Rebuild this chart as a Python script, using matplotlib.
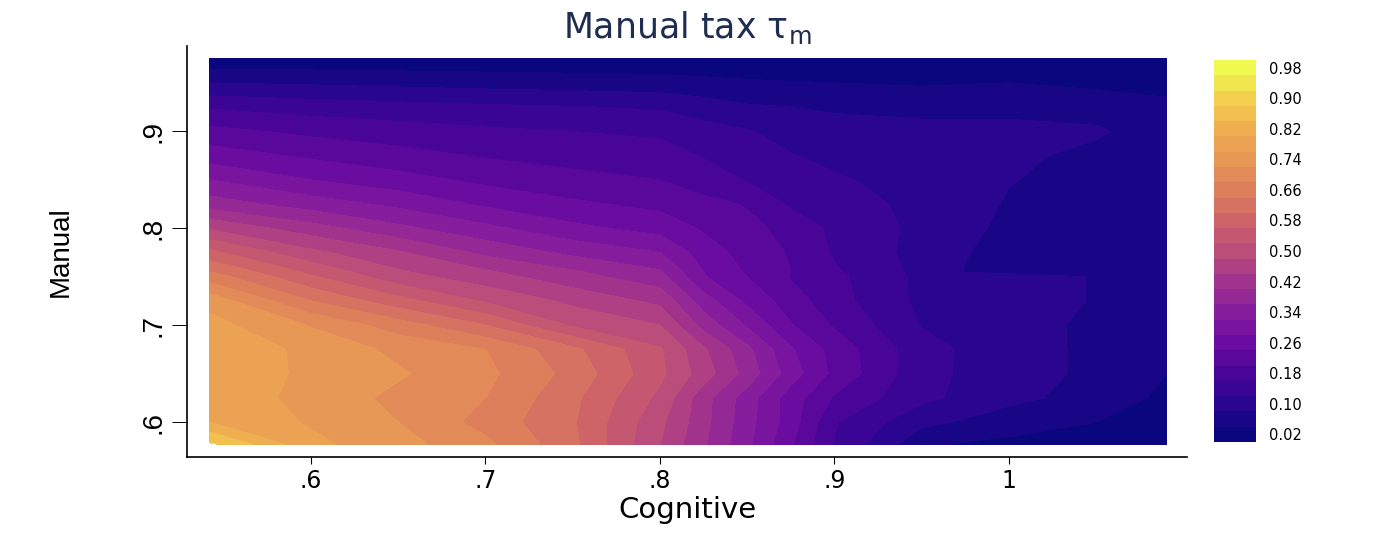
import matplotlib
matplotlib.use("Agg")
import matplotlib.pyplot as plt
from matplotlib.colors import LinearSegmentedColormap
import numpy as np

cognitive = [0.542, 0.60, 0.65, 0.70, 0.75, 0.80, 0.825, 0.85, 0.875, 0.90, 0.95, 0.975, 1.00, 1.05, 1.0905]
manual = [0.975, 0.95, 0.925, 0.90, 0.875, 0.85, 0.825, 0.80, 0.775, 0.755, 0.75, 0.725, 0.70, 0.675, 0.65, 0.625, 0.60, 0.577]

# one row per manual value
tax = [
    [.01, .01, .01, .01, .01, .01, .01, .01, .01, .01, .01, .01, .01, .01, .01],
    [.08, .074, .069, .064, .06, .056, .05, .045, .042, .04, .035, .038, .04, .03, .025],
    [.155, .142, .134, .127, .122, .115, .10, .085, .08, .075, .07, .07, .07, .065, .05],
    [.212, .19, .178, .167, .16, .152, .135, .123, .105, .094, .09, .09, .09, .085, .06],
    [.26, .233, .214, .196, .185, .177, .157, .14, .122, .108, .095, .093, .088, .07, .06],
    [.32, .28, .255, .23, .212, .2, .178, .157, .14, .126, .10, .095, .082, .066, .06],
    [.38, .34, .31, .273, .247, .229, .212, .197, .153, .136, .11, .098, .075, .065, .06],
    [.475, .417, .37, .33, .29, .265, .235, .21, .188, .15, .11, .09, .07, .065, .06],
    [.57, .49, .445, .39, .35, .32, .26, .225, .196, .155, .105, .082, .065, .065, .06],
    [.64, .55, .485, .445, .405, .365, .28, .235, .20, .165, .108, .078, .07, .068, .06],
    [.66, .565, .495, .457, .415, .375, .283, .24, .197, .17, .11, .097, .095, .078, .06],
    [.745, .64, .575, .515, .47, .43, .34, .27, .22, .175, .11, .10, .095, .078, .06],
    [.775, .717, .66, .60, .515, .48, .385, .315, .243, .195, .118, .10, .095, .072, .06],
    [.79, .75, .71, .68, .61, .525, .447, .37, .285, .225, .135, .115, .10, .07, .05],
    [.795, .75, .725, .69, .627, .53, .46, .385, .30, .23, .132, .115, .10, .07, .04],
    [.79, .745, .71, .68, .61, .51, .415, .34, .26, .195, .13, .11, .09, .065, .03],
    [.80, .755, .72, .665, .605, .49, .413, .335, .26, .163, .09, .075, .06, .04, .02],
    [.89, .77, .735, .69, .61, .48, .405, .33, .245, .158, .05, .035, .03, .025, .015],
]

x_ticks = [0.6, 0.7, 0.8, 0.9, 1.0]
x_labels = ['.6', '.7', '.8', '.9', '1']
y_ticks = [0.6, 0.7, 0.8, 0.9]
y_labels = ['.6', '.7', '.8', '.9']
bar_ticks = [0.02, 0.10, 0.18, 0.26, 0.34, 0.42, 0.50, 0.58, 0.66, 0.74, 0.82, 0.90, 0.98]
levels = np.linspace(0, 1, 26)

# palette as it looks in the colour bar of the picture
band_colors = ['#0a067d', '#2a0590', '#4a0598', '#6a0ca0', '#861d9c', '#a2338c', '#ba4c7a',
               '#ce6468', '#de7f5c', '#e79755', '#efad50', '#f4d04f', '#f0f950']
palette = LinearSegmentedColormap.from_list('bands', band_colors)(np.linspace(0, 1, 25))

W, H = 1375, 544
fig = plt.figure(figsize=(W / 100, H / 100), dpi=100)
ax = fig.add_axes([187 / W, 1 - 457 / H, 1000 / W, 411 / H])

cf = ax.contourf(cognitive, manual, tax, levels=levels, colors=palette)
ax.set_xlim(0.529, 1.102)
ax.set_ylim(0.564, 0.988)

ax.spines['top'].set_visible(False)
ax.spines['right'].set_visible(False)
ax.spines['left'].set_linewidth(1.2)
ax.spines['bottom'].set_linewidth(1.2)
ax.set_xticks(x_ticks)
ax.set_xticklabels(x_labels, fontsize=17, family='DejaVu Sans')
ax.set_yticks(y_ticks)
ax.set_yticklabels(y_labels, fontsize=20, family='Liberation Sans', rotation=90, va='center')
ax.tick_params(axis='x', length=5, width=0.8, pad=4)
ax.tick_params(axis='y', length=11, width=0.7, pad=4)

plt.rcParams['mathtext.fontset'] = 'dejavusans'
fig.text(687 / W, 1 - 28 / H, r'Manual tax $\mathregular{\tau_m}$', ha='center', va='center',
         fontsize=25, color='#1f2d50', family='DejaVu Sans')
fig.text(687 / W, 1 - 510 / H, 'Cognitive', ha='center', va='center', fontsize=21, family='DejaVu Sans')
fig.text(61 / W, 1 - 252 / H, 'Manual', ha='center', va='center', rotation=90, fontsize=20, family='Liberation Sans')

cax = fig.add_axes([1214 / W, 1 - 442 / H, 42 / W, 382 / H])
cb = fig.colorbar(cf, cax=cax, ticks=bar_ticks)
cb.ax.set_yticklabels([f'{t:.2f}' for t in bar_ticks], fontsize=10.5, family='DejaVu Sans')
cb.ax.tick_params(length=0, pad=9)
cb.outline.set_visible(False)

fig.savefig('out.png', dpi=100)
plt.close()
